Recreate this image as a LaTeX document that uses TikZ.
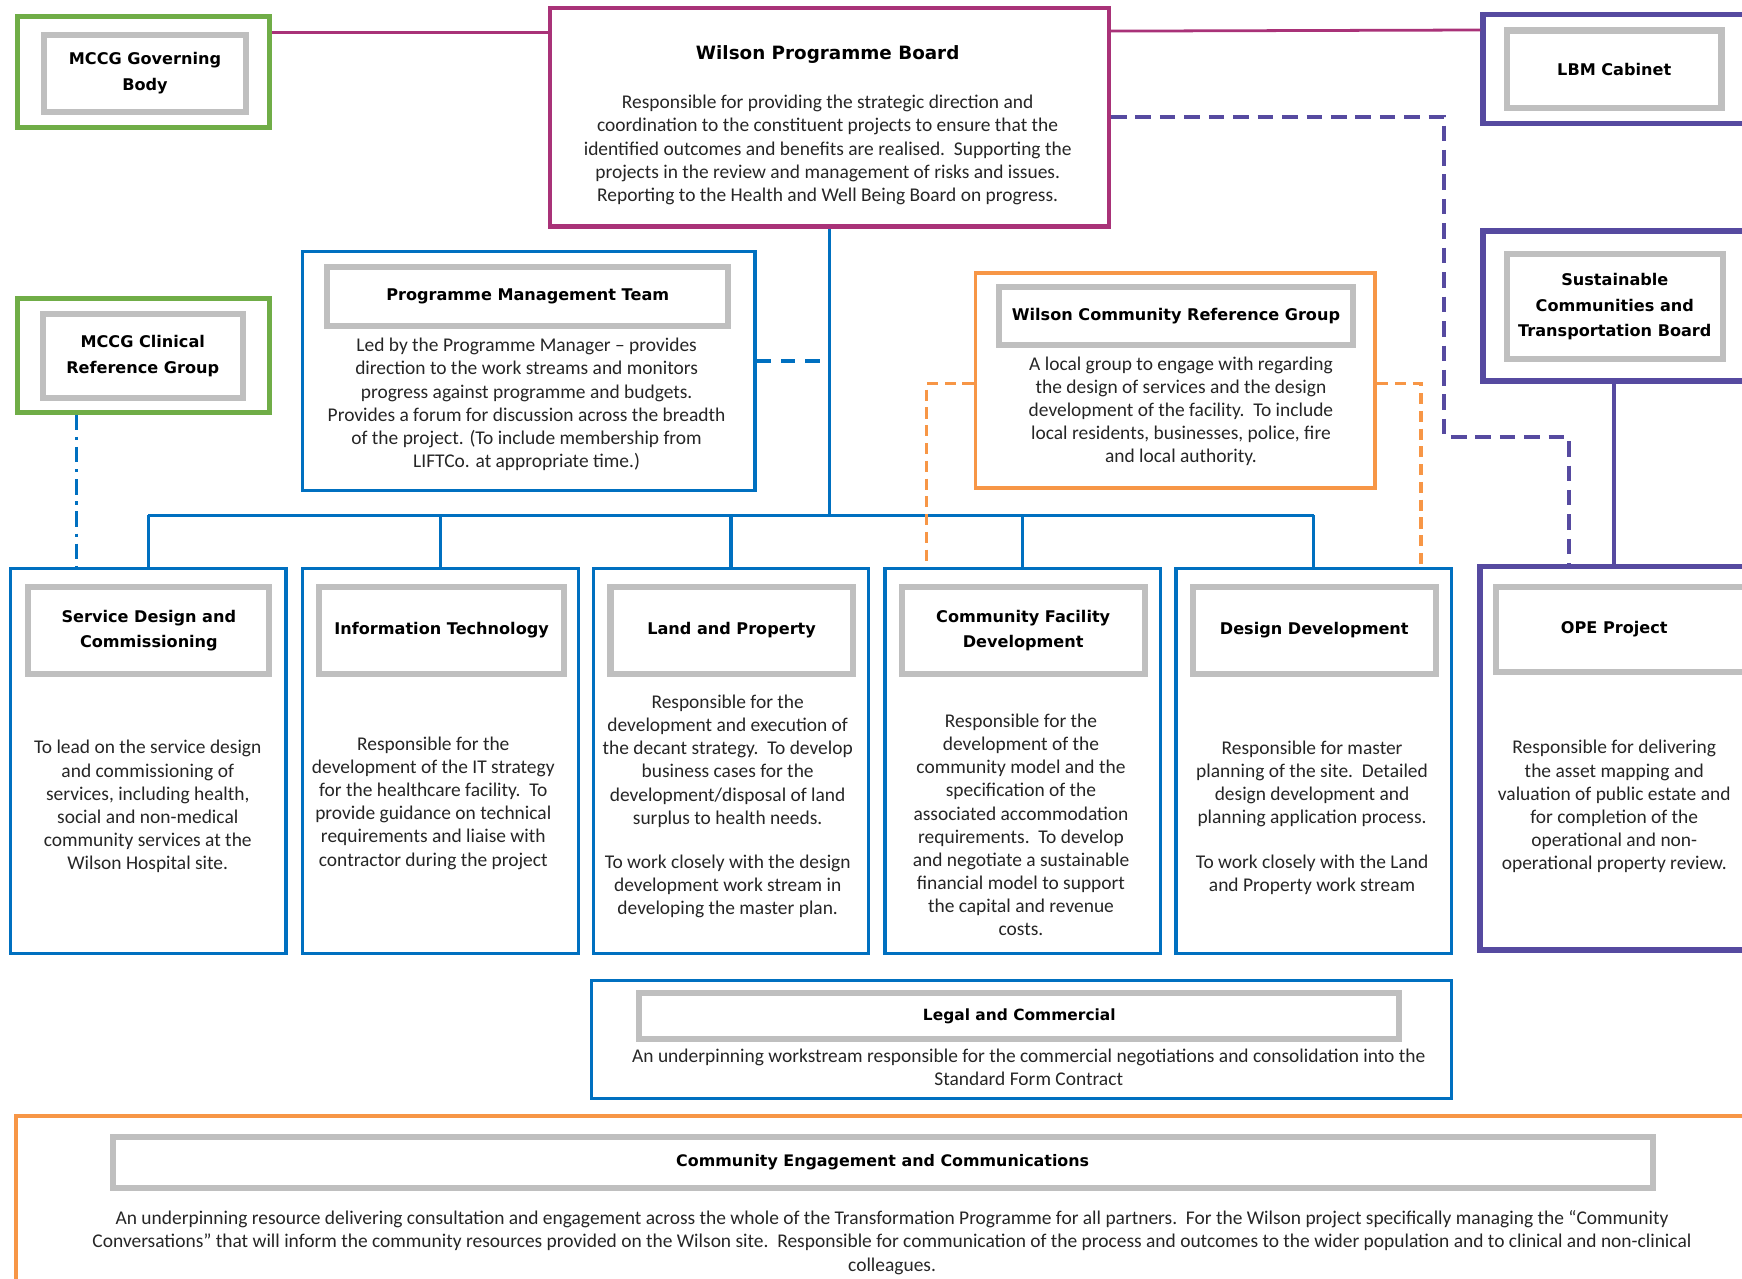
\documentclass[tikz,border=0pt]{standalone}
\usepackage{fontspec}
\setmainfont{Carlito}
\newfontfamily\titlefont{DejaVu Sans}
\usetikzlibrary{calc}
\definecolor{cgreen}{HTML}{70AD47}
\definecolor{cmag}{HTML}{A93278}
\definecolor{cpur}{HTML}{564AA0}
\definecolor{cblue}{HTML}{0070C0}
\definecolor{corange}{HTML}{F79646}
\definecolor{cgrey}{HTML}{BFBFBF}
\definecolor{ctext}{HTML}{262626}
\begin{document}
\begin{tikzpicture}[x=1pt,y=-1pt,
  box/.style={draw, rectangle, inner sep=0pt, fill=white},
  greenbox/.style={box, draw=cgreen, line width=4.5pt},
  magbox/.style={box, draw=cmag, line width=4pt},
  purbox/.style={box, draw=cpur, line width=5pt},
  bluebox/.style={box, draw=cblue, line width=3pt},
  orbox/.style={box, draw=corange, line width=3.5pt},
  greybox/.style={box, draw=cgrey, line width=5.5pt},
  ttl/.style={font=\titlefont\bfseries\fontsize{14.5}{23}\selectfont, align=center, inner sep=0pt, text=black},
  body/.style={font=\fontsize{17.5}{20.8}\selectfont, align=center, inner sep=0pt, text=ctext},
  magline/.style={draw=cmag, line width=2.5pt},
  blueline/.style={draw=cblue, line width=3pt},
  purline/.style={draw=cpur, line width=3.5pt},
  bluedash/.style={draw=cblue, line width=3pt, dash pattern=on 13pt off 9pt},
  purdash/.style={draw=cpur, line width=3.5pt, dash pattern=on 14pt off 8pt},
  ordash/.style={draw=corange, line width=3pt, dash pattern=on 10pt off 6pt},
  bluedashdot/.style={draw=cblue, line width=3pt, dash pattern=on 14pt off 6pt on 3pt off 6pt},
]
\useasboundingbox (0,0) rectangle (1568,1151);
\fill[white] (0,0) rectangle (1568,1151);
\begin{scope}
\clip (0,0) rectangle (1568,1151);

% ---- top row
\node[greenbox, minimum width=227pt, minimum height=100pt] (gov) at (129.5,65) {};
\node[greybox, ttl, minimum width=182pt, minimum height=69pt] (govin) at (130.5,66) {MCCG Governing\\Body};

\node[magbox, minimum width=503pt, minimum height=197pt] (board) at (746.5,105.5) {};
\node[ttl, font=\titlefont\bfseries\fontsize{16.5}{20}\selectfont] (boardttl) at (745,49) {Wilson Programme Board};
\node[body] (boardtxt) at (745,135) {Responsible for providing the strategic direction and\\coordination to the constituent projects to ensure that the\\identified outcomes and benefits are realised.\ \ Supporting the\\projects in the review and management of risks and issues.\\Reporting to the Health and Well Being Board on progress.};

\node[purbox, minimum width=265pt, minimum height=98pt] (lbm) at (1467.5,62) {};
\node[greybox, ttl, minimum width=193pt, minimum height=70pt] (lbmin) at (1453,62.5) {LBM Cabinet};

\node[purbox, minimum width=265pt, minimum height=135pt] (sust) at (1467.5,275.5) {};
\node[greybox, ttl, minimum width=194pt, minimum height=95pt] (sustin) at (1453.5,276) {Sustainable\\Communities and\\Transportation Board};

% ---- middle row
\node[greenbox, minimum width=227pt, minimum height=102pt] (clin) at (129.5,320) {};
\node[greybox, ttl, minimum width=180pt, minimum height=76pt] (clinin) at (128.5,320.5) {MCCG Clinical\\Reference Group};

\node[bluebox, minimum width=407pt, minimum height=215pt] (pmt) at (476,334) {};
\node[greybox, ttl, minimum width=361pt, minimum height=53pt] (pmtin) at (475,267) {Programme Management Team};
\node[body] (pmttxt) at (474,364) {Led by the Programme Manager -- provides\\direction to the work streams and monitors\\progress against programme and budgets.\\Provides a forum for discussion across the breadth\\of the project. (To include membership from\\LIFTCo. at appropriate time.)};

\node[orbox, minimum width=360pt, minimum height=193pt] (wcrg) at (1058,342.5) {};
\node[greybox, ttl, minimum width=318pt, minimum height=52pt] (wcrgin) at (1058.5,284.5) {Wilson Community Reference Group};
\node[body] (wcrgtxt) at (1063,370) {A local group to engage with regarding\\the design of services and the design\\development of the facility.\ \ To include\\local residents, businesses, police, fire\\and local authority.};

% ---- work streams
\node[bluebox, minimum width=248pt, minimum height=347pt] (ws1) at (133.5,685) {};
\node[greybox, ttl, minimum width=217pt, minimum height=78pt] (ws1in) at (134,567.5) {Service Design and\\Commissioning};
\node[body] (ws1txt) at (133,726) {To lead on the service design\\and commissioning of\\services, including health,\\social and non-medical\\community services at the\\Wilson Hospital site.};

\node[bluebox, minimum width=248pt, minimum height=347pt] (ws2) at (396.5,685) {};
\node[greybox, ttl, minimum width=220pt, minimum height=78pt] (ws2in) at (397.5,567.5) {Information Technology};
\node[body] (ws2txt) at (390,723) {Responsible for the\\development of the IT strategy\\for the healthcare facility.\ \ To\\provide guidance on technical\\requirements and liaise with\\contractor during the project};

\node[bluebox, minimum width=247pt, minimum height=347pt] (ws3) at (658,685) {};
\node[greybox, ttl, minimum width=218pt, minimum height=78pt] (ws3in) at (658.5,567.5) {Land and Property};
\node[body] (ws3txt) at (655,726) {Responsible for the\\development and execution of\\the decant strategy.\ \ To develop\\business cases for the\\development/disposal of land\\surplus to health needs.\\[19pt]To work closely with the design\\development work stream in\\developing the master plan.};

\node[bluebox, minimum width=248pt, minimum height=347pt] (ws4) at (920.5,685) {};
\node[greybox, ttl, minimum width=219pt, minimum height=78pt] (ws4in) at (921,567.5) {Community Facility\\Development};
\node[body] (ws4txt) at (919,742.5) {Responsible for the\\development of the\\community model and the\\specification of the\\associated accommodation\\requirements.\ \ To develop\\and negotiate a sustainable\\financial model to support\\the capital and revenue\\costs.};

\node[bluebox, minimum width=248pt, minimum height=347pt] (ws5) at (1182.5,685) {};
\node[greybox, ttl, minimum width=219pt, minimum height=78pt] (ws5in) at (1183,567.5) {Design Development};
\node[body] (ws5txt) at (1181,736) {Responsible for master\\planning of the site.\ \ Detailed\\design development and\\planning application process.\\[19pt]To work closely with the Land\\and Property work stream};

\node[purbox, minimum width=268pt, minimum height=345pt] (ope) at (1466,682.5) {};
\node[greybox, minimum width=243.5pt, minimum height=76pt] (opein) at (1468.25,566.5) {};
\node[ttl] (opettl) at (1453,566) {OPE Project};
\node[body] (opetxt) at (1453,726) {Responsible for delivering\\the asset mapping and\\valuation of public estate and\\for completion of the\\operational and non-\\operational property review.};

% ---- bottom
\node[bluebox, minimum width=774pt, minimum height=106pt] (legal) at (919.5,935.5) {};
\node[greybox, ttl, font=\titlefont\bfseries\fontsize{13.9}{20}\selectfont, minimum width=684pt, minimum height=42pt] (legalin) at (917.5,914.5) {Legal and Commercial};
\node[body] (legaltxt) at (926,961) {An underpinning workstream responsible for the commercial negotiations and consolidation into the\\Standard Form Contract};

\node[orbox, minimum width=1585pt, minimum height=175pt] (ce) at (807,1092) {};
\node[greybox, ttl, font=\titlefont\bfseries\fontsize{14.3}{20}\selectfont, minimum width=1386pt, minimum height=46pt] (cein) at (794.5,1046.5) {Community Engagement and Communications};
\node[body] (cetxt) at (803,1118.5) {An underpinning resource delivering consultation and engagement across the whole of the Transformation Programme for all partners.\ \ For the Wilson project specifically managing the “Community\\Conversations” that will inform the community resources provided on the Wilson site.\ \ Responsible for communication of the process and outcomes to the wider population and to clinical and non-clinical\\colleagues.};

% ---- connectors
\draw[magline] (gov.east |- 0,29) -- (board.west |- 0,29);
\draw[magline] (board.east |- 0,28) -- (lbm.west |- 0,27);

\coordinate (busL) at (ws1.north |- 0,464);
\coordinate (busR) at (ws5.north |- 0,464);
\draw[blueline] (board.south) -- (board.south |- busL);
\draw[blueline] (busL) -- (busR);
\foreach \w in {ws1,ws2,ws3,ws4,ws5} {\draw[blueline] (\w.north |- busL) -- (\w.north);}
\draw[bluedash] (pmt.east |- 0,325) -- (board.south |- 0,325);

\coordinate (p1) at (1300,105);
\coordinate (p2) at (1300,393);
\coordinate (p3) at (1412,393);
\draw[purdash] (board.east |- p1) -- (p1) -- (p2) -- (p3) -- (ope.north -| p3);
\draw[purline] (sust.south -| 1453,0) -- (ope.north -| 1453,0);

\coordinate (o1) at (834,345);
\coordinate (o2) at (1279,345);
\draw[ordash] (wcrg.west |- o1) -- (o1) -- (ws4.north -| o1);
\draw[ordash] (wcrg.east |- o2) -- (o2) -- (ws5.north -| o2);

\draw[bluedashdot] (clin.south -| 69,0) -- (ws1.north -| 69,0);
\end{scope}
\end{tikzpicture}
\end{document}
